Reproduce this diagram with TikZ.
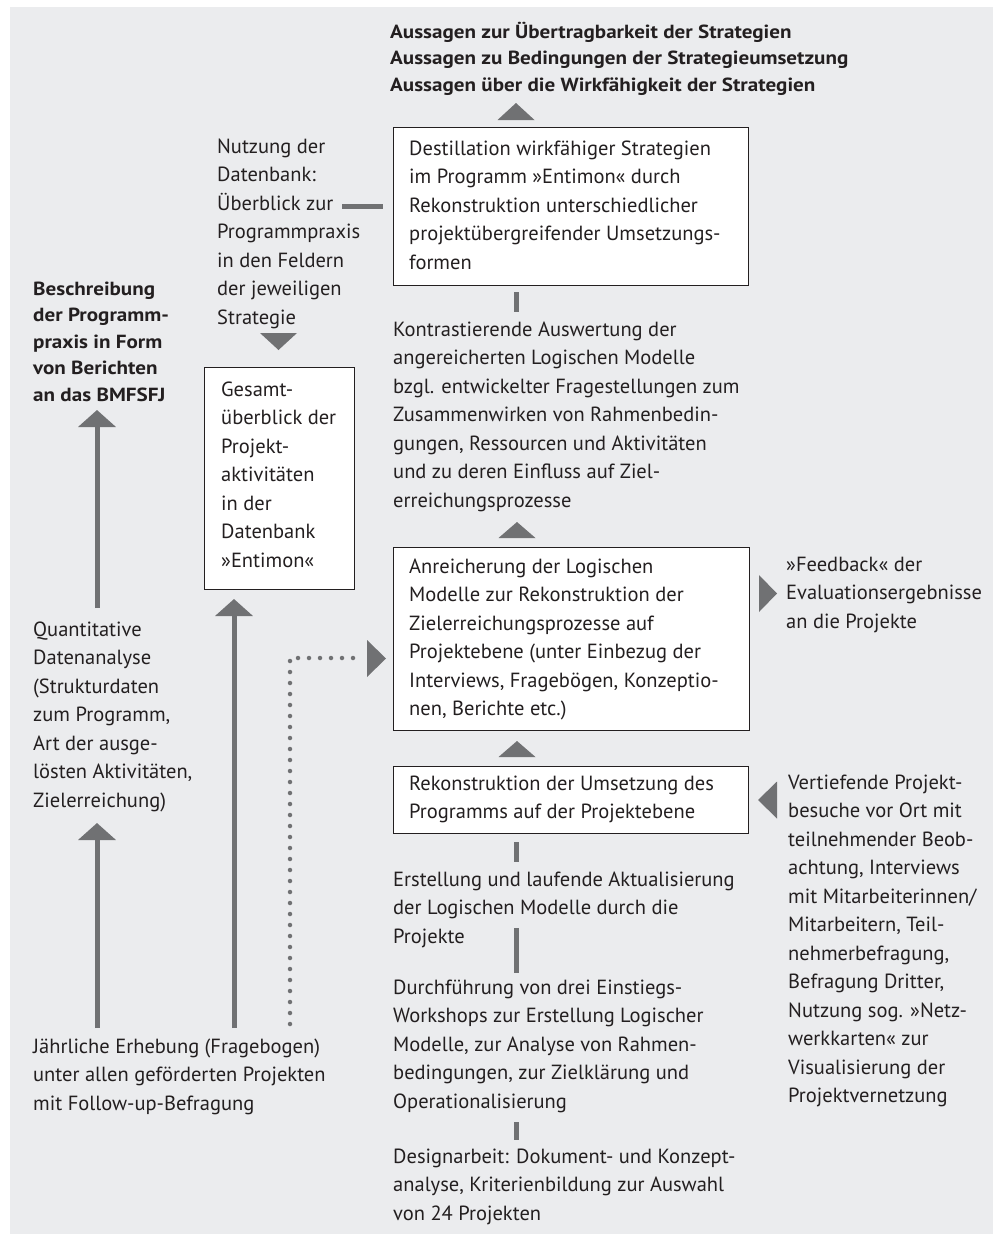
\documentclass[tikz,border=0pt]{standalone}
\usepackage{fontspec}
\setmainfont[FakeStretch=1.0, BoldFeatures={FakeStretch=1.11}]{PT Sans}
\usetikzlibrary{arrows.meta}
\definecolor{bg}{RGB}{235,236,238}
\definecolor{arr}{RGB}{112,113,115}
\definecolor{txt}{RGB}{35,31,32}
\begin{document}
\begin{tikzpicture}[x=1pt,y=-1pt,
  reg/.style={font=\fontsize{20.5}{28.5}\selectfont, align=left, inner sep=0pt, anchor=north west, text=txt},
  bld/.style={font=\bfseries\fontsize{19}{26.5}\selectfont, align=left, inner sep=0pt, anchor=north west, text=txt},
  box/.style={draw=txt, line width=1.2pt, fill=white, inner sep=0pt, anchor=north west},
  bar/.style={draw=arr, line width=5pt},
  arrowline/.style={draw=arr, line width=5pt, -{Triangle[width=37pt,length=17pt]}},
  dots/.style={draw=arr, line width=4.5pt, line cap=round, dash pattern=on 0pt off 11pt},
  tri/.style={fill=arr}]
\useasboundingbox (0,0) rectangle (999,1234);
\fill[bg] (10,7) rectangle (993,1234);

% title
\node[bld] (title) at (390,19.5) {\strut Aussagen zur Übertragbarkeit der Strategien\\
Aussagen zu Bedingungen der Strategieumsetzung\\
Aussagen über die Wirkfähigkeit der Strategien\strut};
\fill[tri] (516,103) -- ++(18.5,17) -- ++(-37,0) -- cycle;

% box 1
\node[box, minimum width=355pt, minimum height=158pt] (box1) at (393,127) {};
\node[reg] (t1) at (409,135) {\strut Destillation wirkfähiger Strategien\\
im Programm »Entimon« durch\\
Rekonstruktion unterschiedlicher\\
projektübergreifender Umsetzungs-\\
formen\strut};

\coordinate (b1a) at (516,292);
\coordinate (b1b) at (516,312);
\draw[bar] (b1a) -- (b1b);

\node[reg] (kontrast) at (393,316) {\strut Kontrastierende Auswertung der\\
angereicherten Logischen Modelle\\
bzgl. entwickelter Fragestellungen zum\\
Zusammenwirken von Rahmenbedin-\\
gungen, Ressourcen und Aktivitäten\\
und zu deren Einfluss auf Ziel-\\
erreichungsprozesse\strut};

\fill[tri] (517,522) -- ++(18.5,16) -- ++(-37,0) -- cycle;

% box 2
\node[box, minimum width=356pt, minimum height=183pt] (box2) at (393,547) {};
\node[reg] (t2) at (409,553) {\strut Anreicherung der Logischen\\
Modelle zur Rekonstruktion der\\
Zielerreichungsprozesse auf\\
Projektebene (unter Einbezug der\\
Interviews, Fragebögen, Konzeptio-\\
nen, Berichte etc.)\strut};

\fill[tri] (777,593.5) -- ++(-18,-18.5) -- ++(0,37) -- cycle;
\node[reg] (feedback) at (786,551) {\strut »Feedback« der\\
Evaluationsergebnisse\\
an die Projekte\strut};

\fill[tri] (517,741) -- ++(18.5,16) -- ++(-37,0) -- cycle;

% box 3
\node[box, minimum width=355pt, minimum height=67pt] (box3) at (393,766) {};
\node[reg] (t3) at (409,770) {\strut Rekonstruktion der Umsetzung des\\
Programms auf der Projektebene\strut};

\fill[tri] (758,800) -- ++(19,-18.5) -- ++(0,37) -- cycle;
\node[reg] (vertief) at (788,769) {\strut Vertiefende Projekt-\\
besuche vor Ort mit\\
teilnehmender Beob-\\
achtung, Interviews\\
mit Mitarbeiterinnen/\\
Mitarbeitern, Teil-\\
nehmerbefragung,\\
Befragung Dritter,\\
Nutzung sog. »Netz-\\
werkkarten« zur\\
Visualisierung der\\
Projektvernetzung\strut};

\coordinate (b3a) at (516,842);
\coordinate (b3b) at (516,862);
\draw[bar] (b3a) -- (b3b);

\node[reg] (erstell) at (393,866) {\strut Erstellung und laufende Aktualisierung\\
der Logischen Modelle durch die\\
Projekte\strut};

\coordinate (e1) at (516,928);
\coordinate (e2) at (516,973);
\draw[bar] (e1) -- (e2);

\node[reg] (durch) at (393,974) {\strut Durchführung von drei Einstiegs-\\
Workshops zur Erstellung Logischer\\
Modelle, zur Analyse von Rahmen-\\
bedingungen, zur Zielklärung und\\
Operationalisierung\strut};

\coordinate (d1) at (516,1122);
\coordinate (d2) at (516,1140);
\draw[bar] (d1) -- (d2);

\node[reg] (design) at (393,1143) {\strut Designarbeit: Dokument- und Konzept-\\
analyse, Kriterienbildung zur Auswahl\\
von 24 Projekten\strut};

% left column
\node[reg] (nutzung) at (217,133) {\strut Nutzung der\\
Datenbank:\\
Überblick zur\\
Programmpraxis\\
in den Feldern\\
der jeweiligen\\
Strategie\strut};
\coordinate (n1) at (342,206);
\coordinate (n2) at (383,206);
\draw[bar] (n1) -- (n2);

\fill[tri] (278.5,350) -- ++(18.5,-17) -- ++(-37,0) -- cycle;

\node[box, minimum width=150pt, minimum height=222pt] (box4) at (204,367) {};
\node[reg] (t4) at (221,376) {\strut Gesamt-\\
überblick der\\
Projekt-\\
aktivitäten\\
in der\\
Datenbank\\
»Entimon«\strut};

\node[bld] (beschr) at (33,276.5) {\strut Beschreibung\\
der Programm-\\
praxis in Form\\
von Berichten\\
an das BMFSFJ\strut};

\node[reg] (quant) at (33,616) {\strut Quantitative\\
Datenanalyse\\
(Strukturdaten\\
zum Programm,\\
Art der ausge-\\
lösten Aktivitäten,\\
Zielerreichung)\strut};

\node[reg] (jaehrl) at (33,1033) {\strut Jährliche Erhebung (Fragebogen)\\
unter allen geförderten Projekten\\
mit Follow-up-Befragung\strut};

\coordinate (q1) at (97,608);
\coordinate (q2) at (97,410);
\draw[arrowline] (q1) -- (q2);

\coordinate (j1) at (97,1028);
\coordinate (j2) at (97,823);
\draw[arrowline] (j1) -- (j2);

\coordinate (g1) at (234,1028);
\coordinate (g2) at (234,599);
\draw[arrowline] (g1) -- (g2);

\coordinate (p1) at (290,1024);
\coordinate (p2) at (290,658);
\coordinate (p3) at (363,658);
\draw[dots] (p1) -- (p2) -- (p3);
\fill[tri] (386,658.5) -- ++(-19,-18.5) -- ++(0,37) -- cycle;
\end{tikzpicture}
\end{document}
